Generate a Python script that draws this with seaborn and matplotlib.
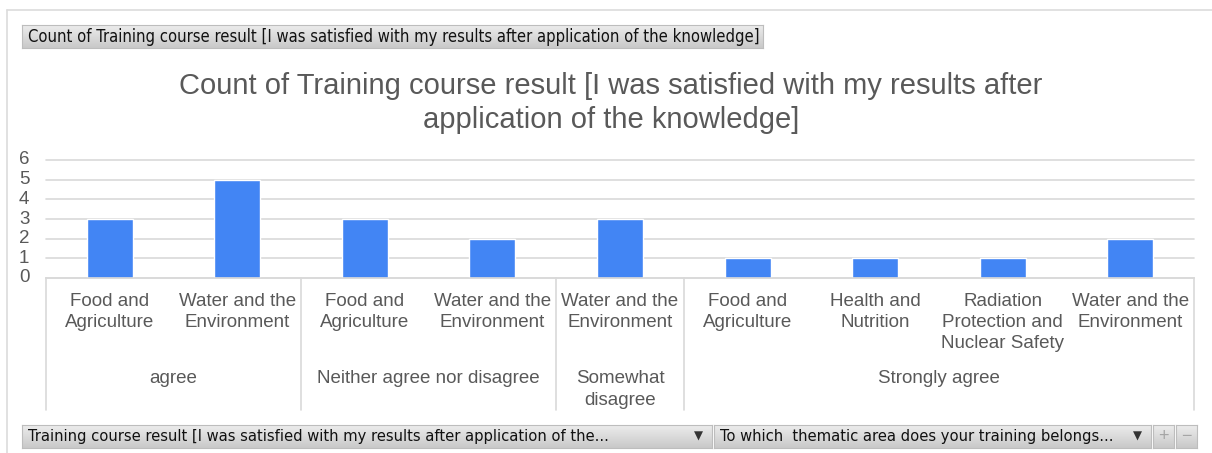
import textwrap

import numpy as np
import pandas as pd
import seaborn as sns
import matplotlib.pyplot as plt
from matplotlib.lines import Line2D
from matplotlib.colors import LinearSegmentedColormap

# data
responses = [
    "agree",
    "agree",
    "Neither agree nor disagree",
    "Neither agree nor disagree",
    "Somewhat disagree",
    "Strongly agree",
    "Strongly agree",
    "Strongly agree",
    "Strongly agree",
]
areas = [
    "Food and Agriculture",
    "Water and the Environment",
    "Food and Agriculture",
    "Water and the Environment",
    "Water and the Environment",
    "Food and Agriculture",
    "Health and Nutrition",
    "Radiation Protection and Nuclear Safety",
    "Water and the Environment",
]
counts = [3, 5, 3, 2, 3, 1, 1, 1, 2]
y_ticks = [0, 1, 2, 3, 4, 5, 6]

title = ("Count of Training course result [I was satisfied with my results after "
         "application of the knowledge]")
data_field = "Count of Training course result [I was satisfied with my results after application of the knowledge]"
row_field_1 = "Training course result [I was satisfied with my results after application of the..."
row_field_2 = "To which  thematic area does your training belongs..."

W, H = 1212, 453
BAR = "#4285f4"
TXT = "#595959"
GRID = "#d9d9d9"
FS = 13.5

df = pd.DataFrame({"response": responses, "area": areas, "count": counts})
df["key"] = [f"{r}|{a}" for r, a in zip(responses, areas)]

sns.set_theme(style="white")
plt.rcParams["font.family"] = ["Liberation Sans", "DejaVu Sans"]

fig = plt.figure(figsize=(W / 100, H / 100), dpi=100)


def fx(px):
    return px / W


def fy(py):
    return 1 - py / H


# plot area in pixels
x0, x1, y_top, y_bot = 46, 1194, 160, 278
ax = fig.add_axes([fx(x0), fy(y_bot), fx(x1 - x0), (y_bot - y_top) / H])

sns.barplot(data=df, x="key", y="count", order=df["key"], color=BAR,
            saturation=1, width=0.36, ax=ax, zorder=3)

ax.set_ylim(0, 6)
ax.set_xlim(-0.5, len(df) - 0.5)
ax.set_yticks(y_ticks)
ax.set_yticklabels([str(t) for t in y_ticks], fontsize=FS, color=TXT)
ax.set_xticks(range(len(df)))
ax.set_xticklabels([textwrap.fill(a, 14) for a in areas], fontsize=FS,
                   color=TXT, linespacing=1.3)
ax.tick_params(axis="both", length=0)
ax.tick_params(axis="x", pad=11)
ax.tick_params(axis="y", pad=12)
ax.set_xlabel("")
ax.set_ylabel("")
for t in ax.get_yticklabels():
    t.set_verticalalignment("center")

ax.grid(axis="y", color=GRID, linewidth=1.2, zorder=0)
for gl in ax.get_ygridlines():
    gl.set_clip_on(False)
for side in ["top", "right", "left"]:
    ax.spines[side].set_visible(False)
ax.spines["bottom"].set_color(GRID)
ax.spines["bottom"].set_linewidth(1.2)
ax.spines["bottom"].set_zorder(4)

# group labels and separators below the axis
px_per_axes = y_bot - y_top
trans = ax.get_xaxis_transform()
groups = list(dict.fromkeys(responses))
pos = np.arange(len(df))
bounds = [-0.5]
for g in groups:
    idx = pos[np.array(responses) == g]
    label = textwrap.fill(g, 14 * len(idx) + 2)
    ax.text(idx.mean(), -(370 - y_bot) / px_per_axes, label, transform=trans,
            ha="center", va="top", fontsize=FS, color=TXT, linespacing=1.35)
    bounds.append(idx.max() + 0.5)
for b in bounds:
    ax.plot([b, b], [0, -(410 - y_bot) / px_per_axes], transform=trans,
            color=GRID, linewidth=1.2, clip_on=False)

fig.text(fx(611), fy(103), title.replace("after ", "after\n"), ha="center",
         va="center", fontsize=21, color=TXT, linespacing=1.3)

# outer frame (top and left only)
fig.add_artist(Line2D([fx(7), 1], [fy(10), fy(10)], color="#dcdcdc", lw=1.2))
fig.add_artist(Line2D([fx(7), fx(7)], [fy(10), 0], color="#dcdcdc", lw=1.2))

grad = LinearSegmentedColormap.from_list("btn", ["#ececec", "#c9c9c9"])


def button(xa, xb, ya, yb, text="", arrow=False, text_color="#111111",
           ha="left", size=10.5):
    bax = fig.add_axes([fx(xa), fy(yb), fx(xb - xa), (yb - ya) / H])
    bax.imshow(np.linspace(0, 1, 32).reshape(-1, 1), aspect="auto", cmap=grad,
               extent=[0, 1, 0, 1])
    bax.set_xticks([])
    bax.set_yticks([])
    for s in bax.spines.values():
        s.set_color("#bdbdbd")
        s.set_linewidth(0.8)
    if ha == "left":
        bax.text(6 / (xb - xa), 0.5, text, ha="left", va="center",
                 fontsize=size, color=text_color,
                 family=["DejaVu Sans"], fontstretch="condensed")
    else:
        bax.text(0.5, 0.5, text, ha="center", va="center", fontsize=size,
                 color=text_color)
    if arrow:
        bax.text(1 - 14 / (xb - xa), 0.5, "▼", ha="center", va="center",
                 fontsize=8.5, color="#333333", family=["DejaVu Sans"])


button(22, 763, 25, 48, data_field, size=11.9)
button(22, 712, 425, 448, row_field_1, arrow=True, size=11.8)
button(714, 1151, 425, 448, row_field_2, arrow=True, size=11.8)
button(1153, 1174, 425, 448, "+", text_color="#a5a5a5", ha="center", size=13)
button(1176, 1197, 425, 448, "−", text_color="#a5a5a5", ha="center", size=13)

fig.savefig("out.png", dpi=100)
